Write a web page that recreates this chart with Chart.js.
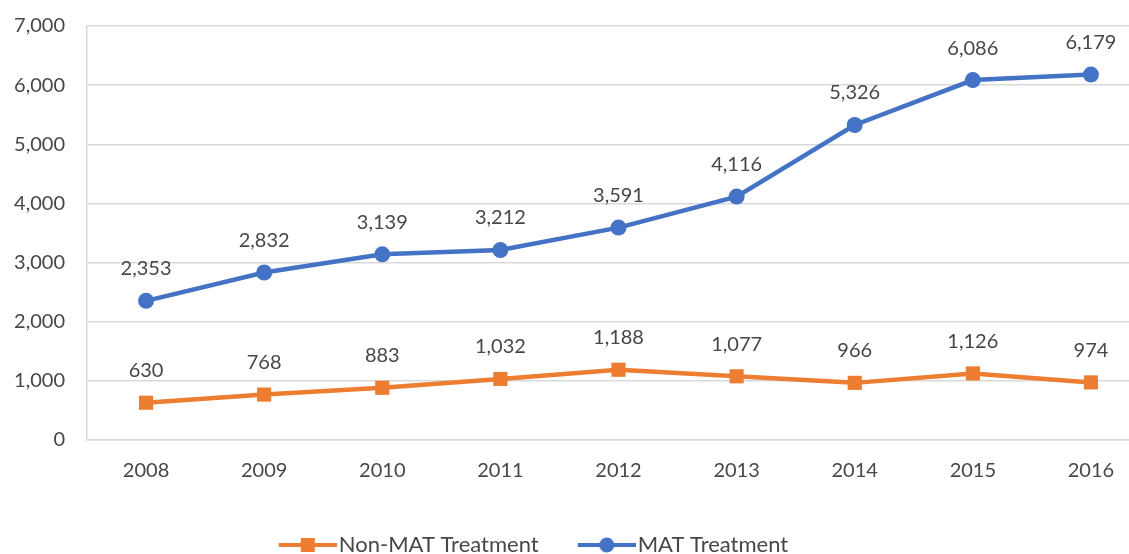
<!DOCTYPE html>
<html>
<head>
<meta charset="utf-8">
<script src="https://cdn.jsdelivr.net/npm/chart.js@4"></script>
<style>
  html, body { margin: 0; padding: 0; background: #fff; overflow: hidden; }
  #wrap { width: 1160px; height: 574px; margin-top: -8px; }
</style>
</head>
<body>
<div id="wrap"><canvas id="chart" width="1160" height="574"></canvas></div>
<script>
const years = ['2008', '2009', '2010', '2011', '2012', '2013', '2014', '2015', '2016'];
const nonMat = [630, 768, 883, 1032, 1188, 1077, 966, 1126, 974];
const mat = [2353, 2832, 3139, 3212, 3591, 4116, 5326, 6086, 6179];

const orange = '#ED7D31';
const blue = '#4472C4';
const textColor = '#474747';
const gridColor = '#D9D9D9';
const fontFamily = 'Lato, "Open Sans", sans-serif';

// legend marker: short line with the point symbol, drawn at the right of a wider transparent image
function legendIcon(color, shape) {
    const c = document.createElement('canvas');
    c.width = 94;
    c.height = 16;
    const g = c.getContext('2d');
    g.strokeStyle = color;
    g.lineWidth = 4;
    g.beginPath();
    g.moveTo(36, 8);
    g.lineTo(94, 8);
    g.stroke();
    g.fillStyle = color;
    if (shape === 'rect') {
        g.fillRect(58, 1, 14, 14);
    } else {
        g.beginPath();
        g.arc(65, 8, 7.5, 0, Math.PI * 2);
        g.fill();
    }
    return c;
}

const valueLabels = {
    id: 'valueLabels',
    afterLayout(chart) {
        // legend in the reference is centred a bit left of the canvas middle
        if (chart.legend) chart.legend.right = 1040;
    },
    afterDatasetsDraw(chart) {
        const ctx = chart.ctx;
        ctx.save();
        ctx.font = '20px ' + fontFamily;
        ctx.fillStyle = textColor;
        ctx.textAlign = 'center';
        ctx.textBaseline = 'middle';
        chart.data.datasets.forEach((ds, i) => {
            const meta = chart.getDatasetMeta(i);
            meta.data.forEach((pt, j) => {
                ctx.fillText(ds.data[j].toLocaleString('en-US'), pt.x, pt.y - 32);
            });
        });
        ctx.restore();
    }
};

const ctx = document.getElementById('chart').getContext('2d');
new Chart(ctx, {
    type: 'line',
    data: {
        labels: years,
        datasets: [{
            label: 'Non-MAT Treatment',
            data: nonMat,
            borderColor: orange,
            backgroundColor: orange,
            borderWidth: 4.5,
            pointStyle: 'rect',
            pointRadius: 10,
            pointBorderWidth: 0,
            tension: 0
        }, {
            label: 'MAT Treatment',
            data: mat,
            borderColor: blue,
            backgroundColor: blue,
            borderWidth: 4.5,
            pointStyle: 'circle',
            pointRadius: 8,
            pointBorderWidth: 0,
            tension: 0
        }]
    },
    options: {
        responsive: false,
        animation: false,
        layout: { padding: { top: 5, left: 0, right: 0, bottom: 0 } },
        plugins: {
            tooltip: { enabled: false },
            legend: {
                position: 'bottom',
                labels: {
                    usePointStyle: true,
                    pointStyleWidth: 76,
                    padding: 12,
                    color: textColor,
                    font: { size: 22, family: fontFamily },
                    generateLabels(chart) {
                        const items = Chart.defaults.plugins.legend.labels.generateLabels(chart);
                        items.forEach(it => {
                            it.pointStyle = it.datasetIndex === 0 ? legendIcon(orange, 'rect') : legendIcon(blue, 'circle');
                        });
                        return items;
                    }
                }
            }
        },
        scales: {
            x: {
                offset: true,
                grid: { display: false, drawTicks: false, offset: true },
                border: { color: gridColor, width: 1.5 },
                ticks: { color: textColor, font: { size: 20, family: fontFamily }, padding: 19 },
                afterFit(scale) { scale.height = 82; }
            },
            y: {
                min: 0,
                max: 7000,
                ticks: {
                    stepSize: 1000,
                    color: textColor,
                    padding: 22,
                    font: { size: 20, family: fontFamily },
                    callback: v => v.toLocaleString('en-US')
                },
                grid: { color: gridColor, lineWidth: 1.5, drawTicks: false },
                border: { color: gridColor, width: 1.5 },
                afterFit(scale) { scale.width = 87; }
            }
        }
    },
    plugins: [valueLabels]
});
</script>
</body>
</html>
